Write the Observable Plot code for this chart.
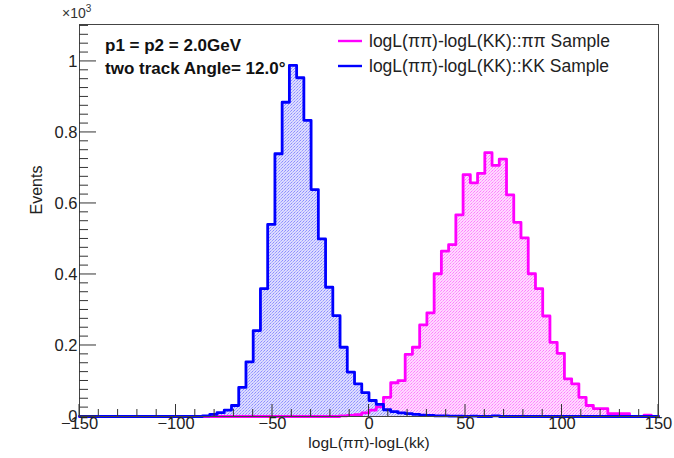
<!DOCTYPE html>
<html><head><meta charset="utf-8">
<script src="https://cdn.jsdelivr.net/npm/d3@7"></script>
<script src="https://cdn.jsdelivr.net/npm/@observablehq/plot@0.6"></script>
<style>
html,body{margin:0;padding:0;background:#fff;}
#chart{position:relative;width:674px;height:458px;}
</style></head><body><div id="chart"></div>
<script>
const FONT = '"Liberation Sans", Arial, Helvetica, sans-serif';
const xMin = -150, xMax = 150, binWidth = 3.75;
// ππ sample (magenta), 80 bins from -150 to 150
const countsPiPi = [
  0,0,0,0,0,0,0,0,0,0, 0,0,0,0,0,0,0,0,0,0,
  0,0,0,0,0,0,0,0,0,0, 0,0,0,0,0,0,2,3,5,10,
  18,27,54,95,101,175,195,258,292,402, 466,484,568,681,658,685,743,707,725,624,
  547,503,402,360,283,209,178,106,92,54, 31,22,22,8,8,8,0,0,4,0
];
// KK sample (blue)
const countsKK = [
  0,0,0,0,0,0,0,0,0,0, 0,0,0,0,0,0,0,2,6,11,
  18,31,82,154,242,360,541,740,885,989, 954,834,639,500,364,284,195,125,92,67,
  45,34,19,14,10,8,6,4,3,2, 2,1,1,0,1,0,0,2,0,0,
  0,0,0,0,0,0,0,0,0,0, 0,0,0,0,0,0,0,0,0,0
];
const xTicks = [-150, -100, -50, 0, 50, 100, 150];
const xMinorTicks = d3.range(-150, 151, 10);
const yTicks = [0, 200, 400, 600, 800, 1000];
const yTickLabels = ["0", "0.2", "0.4", "0.6", "0.8", "1"];
const yMinorTicks = d3.range(0, 1101, 25);
const legendLabels = ["logL(\u03c0\u03c0)-logL(KK)::\u03c0\u03c0 Sample", "logL(\u03c0\u03c0)-logL(KK)::KK Sample"];
const legendColors = ["#ff00ff", "#0000ff"];
const annotations = ["p1 = p2 = 2.0GeV", "two track Angle= 12.0\u00b0"];
const xLabel = "logL(\u03c0\u03c0)-logL(kk)";
const yLabel = "Events";

function steps(counts) {
  const r = counts.map((c, i) => ({x: xMin + i * binWidth, y: c}));
  r.push({x: xMax, y: counts[counts.length - 1]});
  return r;
}
const rowsPi = steps(countsPiPi);
const rowsKK = steps(countsKK);
const fmtX = d => String(d).replace("-", "\u2212");
const fmtY = d => yTickLabels[yTicks.indexOf(d)];

const svgNode = Plot.plot({
  width: 674, height: 458,
  marginLeft: 79, marginRight: 16, marginTop: 24, marginBottom: 42,
  style: {fontFamily: FONT, fontSize: "16px", color: "#222", background: "#fff"},
  x: {domain: [xMin, xMax]},
  y: {domain: [0, 1104]},
  marks: [
    Plot.areaY(rowsPi, {x: "x", y: "y", curve: "step-after", fill: "url(#hatch-pi)"}),
    Plot.areaY(rowsKK, {x: "x", y: "y", curve: "step-after", fill: "url(#hatch-kk)"}),
    Plot.lineY(rowsPi, {x: "x", y: "y", curve: "step-after", stroke: "#ff00ff", strokeWidth: 2.8}),
    Plot.lineY(rowsKK, {x: "x", y: "y", curve: "step-after", stroke: "#0000ff", strokeWidth: 2.8}),
    Plot.frame({stroke: "#444"}),
    Plot.axisX({ticks: xTicks, tickSize: 0, tickPadding: 1, tickFormat: fmtX, label: null, fontSize: 16.5}),
    Plot.axisY({ticks: yTicks, tickSize: 0, tickPadding: 2, tickFormat: fmtY, label: null, fontSize: 16.5}),
    Plot.text([xLabel], {frameAnchor: "bottom", dy: 27, text: d => d, fontSize: 15.5, lineAnchor: "middle", fill: "#222"}),
    Plot.text([yLabel], {frameAnchor: "left", dx: -43, dy: -6, rotate: -90, text: d => d, fontSize: 16, lineAnchor: "middle", fill: "#222"})
  ]
});
document.getElementById("chart").appendChild(svgNode);

const sx = svgNode.scale("x"), sy = svgNode.scale("y");
const svg = d3.select(svgNode);
const defs = svg.insert("defs", ":first-child");
function hatch(id, color, tint) {
  const p = defs.append("pattern").attr("id", id).attr("patternUnits", "userSpaceOnUse")
    .attr("width", 3).attr("height", 3);
  p.append("rect").attr("width", 3).attr("height", 3).attr("fill", tint);
  p.append("path").attr("d", "M0,3 L1.5,1.5 M2.2,0.8 L3,0")
    .attr("stroke", color).attr("stroke-width", 0.8).attr("stroke-opacity", 0.55);
}
hatch("hatch-pi", "#ff00ff", "#ffd9ff");
hatch("hatch-kk", "#2222ff", "#dcdcff");

// inward ROOT-style ticks drawn with the plot's scales
const tg = svg.append("g").attr("stroke", "#333").attr("stroke-width", 1);
const yBase = sy.apply(0), xBase = sx.apply(xMin);
xMinorTicks.forEach(v => {
  const len = xTicks.includes(v) ? 12 : 7;
  tg.append("line").attr("x1", sx.apply(v)).attr("x2", sx.apply(v)).attr("y1", yBase).attr("y2", yBase - len);
});
yMinorTicks.forEach(v => {
  const len = yTicks.includes(v) ? 17 : 9;
  tg.append("line").attr("y1", sy.apply(v)).attr("y2", sy.apply(v)).attr("x1", xBase).attr("x2", xBase + len);
});

const ov = svg.append("g").attr("font-family", FONT).attr("text-anchor", "start");
// annotation text
annotations.forEach((t, i) => {
  ov.append("text").attr("x", 105).attr("y", 45 + i * 23).attr("dy", "0.35em")
    .attr("font-size", 17).attr("font-weight", "bold").attr("fill", "#111").text(t);
});
// legend
legendLabels.forEach((t, i) => {
  const y = 41 + i * 25;
  ov.append("line").attr("x1", 338).attr("x2", 362).attr("y1", y).attr("y2", y)
    .attr("stroke", legendColors[i]).attr("stroke-width", 2.4);
  ov.append("text").attr("x", 369).attr("y", y).attr("dy", "0.35em")
    .attr("font-size", 17.5).attr("fill", "#222").text(t);
});
// exponent label
const ex = ov.append("text").attr("x", 62).attr("y", 18).attr("font-size", 14).attr("fill", "#333");
ex.append("tspan").text("\u00d710");
ex.append("tspan").attr("dy", -6).attr("font-size", 10).text("3");
</script></body></html>
